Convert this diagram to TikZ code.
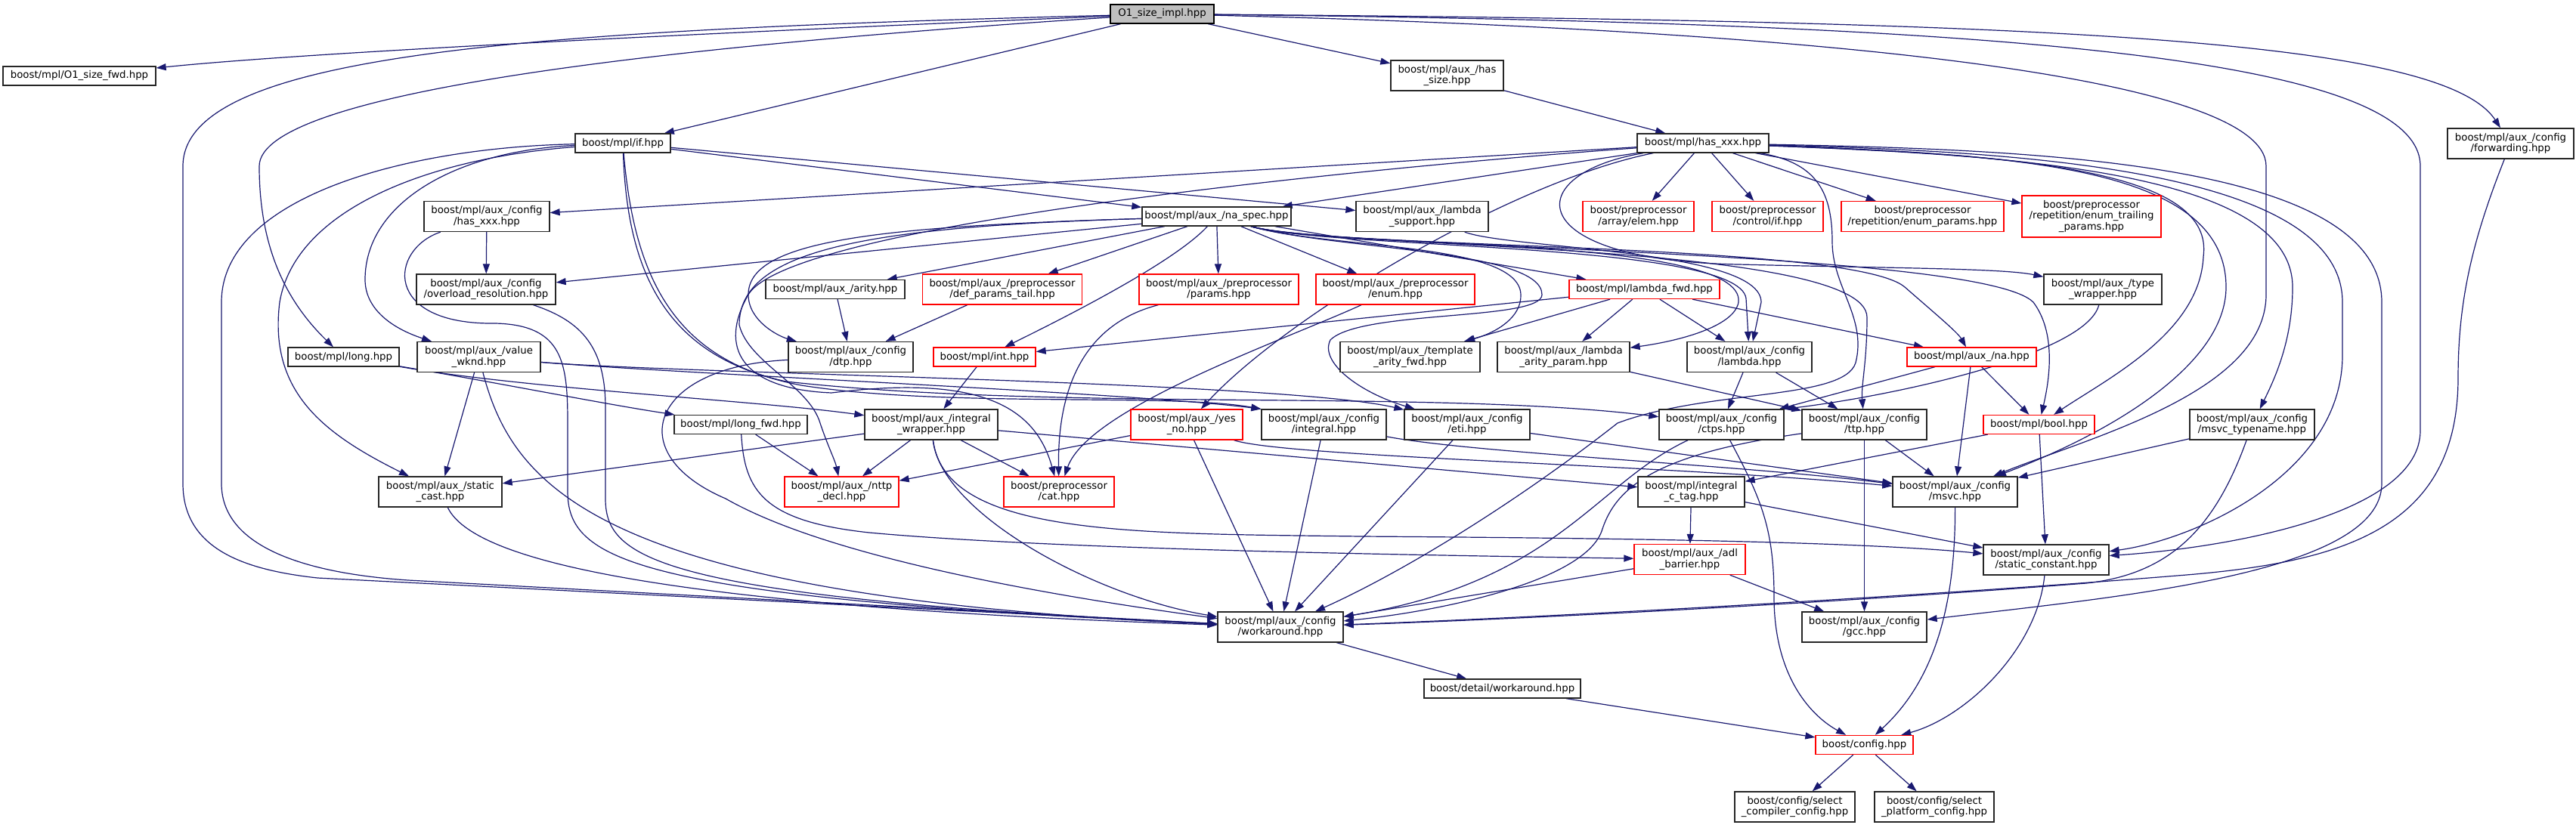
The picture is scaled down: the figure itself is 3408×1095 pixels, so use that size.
\documentclass[tikz,border=0pt]{standalone}
\usepackage{fontspec}
\setmainfont{DejaVu Sans}
\usetikzlibrary{arrows.meta}
\definecolor{edgeblue}{HTML}{191970}
\definecolor{rootgray}{HTML}{BFBFBF}
\definecolor{boxred}{HTML}{FF0000}
\pgfdeclarelayer{bg}
\pgfsetlayers{bg,main}
\begin{document}
\begin{tikzpicture}[x=1pt,y=-1pt,
  nbox/.style={draw=black!85,line width=1.3pt,fill=white,inner sep=0pt,align=center,
     font=\fontsize{13.3}{14.6}\selectfont},
  lone/.style={minimum height=25pt},
  ltwo/.style={minimum height=40pt},
  lthree/.style={minimum height=55pt},
  trunc/.style={draw=boxred},
  incl/.style={draw=edgeblue,line width=1.2pt,-{Triangle[length=13pt,width=9pt]}},
]
\useasboundingbox (0,0) rectangle (3408,1095);

% ---------- nodes ----------
\node[nbox,lone,minimum width=137pt,fill=rootgray,draw=black] (root) at (1537.5,18.5) {O1\_size\_impl.hpp};
\node[nbox,lone,minimum width=202pt] (o1fwd) at (105,100.5) {boost/mpl/O1\_size\_fwd.hpp};
\node[nbox,ltwo,minimum width=149pt] (hassize) at (1914.5,100) {boost/mpl/aux\_/has\\\_size.hpp};
\node[nbox,ltwo,minimum width=167pt] (forwarding) at (3321.5,190) {boost/mpl/aux\_/config\\/forwarding.hpp};
\node[nbox,lone,minimum width=126pt] (ifh) at (824,189.5) {boost/mpl/if.hpp};
\node[nbox,lone,minimum width=174pt] (hasxxx) at (2253,189.5) {boost/mpl/has\_xxx.hpp};
\node[nbox,ltwo,minimum width=166pt] (cfghasxxx) at (644,286.5) {boost/mpl/aux\_/config\\/has\_xxx.hpp};
\node[nbox,lone,minimum width=197pt] (naspec) at (1609.5,286.5) {boost/mpl/aux\_/na\_spec.hpp};
\node[nbox,ltwo,minimum width=175pt] (lambdasupport) at (1881.5,286.5) {boost/mpl/aux\_/lambda\\\_support.hpp};
\node[nbox,ltwo,trunc,minimum width=147pt] (elem) at (2167.5,286.5) {boost/preprocessor\\/array/elem.hpp};
\node[nbox,ltwo,trunc,minimum width=147pt] (ppif) at (2338.5,286.5) {boost/preprocessor\\/control/if.hpp};
\node[nbox,ltwo,trunc,minimum width=215pt] (enumparams) at (2543.5,286.5) {boost/preprocessor\\/repetition/enum\_params.hpp};
\node[nbox,lthree,trunc,minimum width=184pt] (enumtrailing) at (2767,286.5) {boost/preprocessor\\/repetition/enum\_trailing\\\_params.hpp};
\node[nbox,ltwo,minimum width=184pt] (overload) at (643,383) {boost/mpl/aux\_/config\\/overload\_resolution.hpp};
\node[nbox,lone,minimum width=184pt] (arity) at (1105,383) {boost/mpl/aux\_/arity.hpp};
\node[nbox,ltwo,trunc,minimum width=211pt] (defparams) at (1326,383) {boost/mpl/aux\_/preprocessor\\/def\_params\_tail.hpp};
\node[nbox,ltwo,trunc,minimum width=211pt] (params) at (1612.5,383) {boost/mpl/aux\_/preprocessor\\/params.hpp};
\node[nbox,ltwo,trunc,minimum width=210pt] (ppenum) at (1846,383) {boost/mpl/aux\_/preprocessor\\/enum.hpp};
\node[nbox,lone,trunc,minimum width=199pt] (lambdafwd) at (2175.5,383) {boost/mpl/lambda\_fwd.hpp};
\node[nbox,ltwo,minimum width=156pt] (typewrapper) at (2782,383) {boost/mpl/aux\_/type\\\_wrapper.hpp};
\node[nbox,lone,minimum width=147pt] (longh) at (454.5,472.5) {boost/mpl/long.hpp};
\node[nbox,ltwo,minimum width=163pt] (valuewknd) at (633.5,472.5) {boost/mpl/aux\_/value\\\_wknd.hpp};
\node[nbox,ltwo,minimum width=165pt] (dtp) at (1125.5,472.5) {boost/mpl/aux\_/config\\/dtp.hpp};
\node[nbox,lone,trunc,minimum width=135pt] (inth) at (1302.5,472.5) {boost/mpl/int.hpp};
\node[nbox,ltwo,minimum width=185pt] (templatearity) at (1865.5,472.5) {boost/mpl/aux\_/template\\\_arity\_fwd.hpp};
\node[nbox,ltwo,minimum width=175pt] (lambdaarity) at (2068.5,472.5) {boost/mpl/aux\_/lambda\\\_arity\_param.hpp};
\node[nbox,ltwo,minimum width=165pt] (cfglambda) at (2314.5,472.5) {boost/mpl/aux\_/config\\/lambda.hpp};
\node[nbox,lone,trunc,minimum width=171pt] (na) at (2608.5,472.5) {boost/mpl/aux\_/na.hpp};
\node[nbox,lone,minimum width=176pt] (longfwd) at (980,562) {boost/mpl/long\_fwd.hpp};
\node[nbox,ltwo,minimum width=176pt] (intwrapper) at (1232,562) {boost/mpl/aux\_/integral\\\_wrapper.hpp};
\node[nbox,ltwo,trunc,minimum width=148pt] (yesno) at (1570,562) {boost/mpl/aux\_/yes\\\_no.hpp};
\node[nbox,ltwo,minimum width=165pt] (cfgintegral) at (1751.5,562) {boost/mpl/aux\_/config\\/integral.hpp};
\node[nbox,ltwo,minimum width=166pt] (eti) at (1941,562) {boost/mpl/aux\_/config\\/eti.hpp};
\node[nbox,ltwo,minimum width=165pt] (ctps) at (2277.5,562) {boost/mpl/aux\_/config\\/ctps.hpp};
\node[nbox,ltwo,minimum width=165pt] (ttp) at (2466.5,562) {boost/mpl/aux\_/config\\/ttp.hpp};
\node[nbox,lone,trunc,minimum width=147pt] (boolh) at (2697.5,562) {boost/mpl/bool.hpp};
\node[nbox,ltwo,minimum width=165pt] (msvctypename) at (2979.5,562) {boost/mpl/aux\_/config\\/msvc\_typename.hpp};
\node[nbox,ltwo,minimum width=163pt] (statcast) at (582.5,651) {boost/mpl/aux\_/static\\\_cast.hpp};
\node[nbox,ltwo,trunc,minimum width=151pt] (nttp) at (1113.5,651) {boost/mpl/aux\_/nttp\\\_decl.hpp};
\node[nbox,ltwo,trunc,minimum width=146pt] (cat) at (1401,651) {boost/preprocessor\\/cat.hpp};
\node[nbox,ltwo,minimum width=141pt] (intctag) at (2237.5,651) {boost/mpl/integral\\\_c\_tag.hpp};
\node[nbox,ltwo,minimum width=165pt] (msvc) at (2586.5,651) {boost/mpl/aux\_/config\\/msvc.hpp};
\node[nbox,ltwo,trunc,minimum width=147pt] (adl) at (2235.5,740.5) {boost/mpl/aux\_/adl\\\_barrier.hpp};
\node[nbox,ltwo,minimum width=166pt] (statconst) at (2707,741) {boost/mpl/aux\_/config\\/static\_constant.hpp};
\node[nbox,ltwo,minimum width=166pt] (workaround) at (1694,830) {boost/mpl/aux\_/config\\/workaround.hpp};
\node[nbox,ltwo,minimum width=165pt] (gcc) at (2466.5,830) {boost/mpl/aux\_/config\\/gcc.hpp};
\node[nbox,lone,minimum width=207pt] (detailwa) at (1987.5,911.5) {boost/detail/workaround.hpp};
\node[nbox,lone,trunc,minimum width=129pt] (config) at (2466.5,986) {boost/config.hpp};
\node[nbox,ltwo,minimum width=159pt] (selcomp) at (2374.5,1068) {boost/config/select\\\_compiler\_config.hpp};
\node[nbox,ltwo,minimum width=158pt] (selplat) at (2559,1068) {boost/config/select\\\_platform\_config.hpp};

% ---------- edges ----------
\begin{pgfonlayer}{bg}
\fill[white] (0,0) rectangle (3408,1095);
% root
\draw[incl] (root) .. controls (900,45) and (400,70) .. (o1fwd);
\draw[incl] (root) -- (ifh);
\draw[incl] (root) -- (hassize);
\draw[incl] (root) .. controls (900,60) and (343,120) .. (343,220) .. controls (343,330) and (380,400) .. (longh);
\draw[incl] (root) .. controls (700,40) and (242,70) .. (242,220) -- (242,640) .. controls (242,730) and (330,755) .. (420,765) -- (workaround);
\draw[incl] (root) .. controls (2700,28) and (3230,50) .. (forwarding);
\draw[incl] (root) .. controls (2600,30) and (3202,70) .. (3202,220) -- (3202,570) .. controls (3202,680) and (2950,725) .. (statconst);
\draw[incl] (root) .. controls (2400,40) and (2998,100) .. (2998,220) -- (2998,390) .. controls (2998,520) and (2760,580) .. (msvc);
% if
\draw[incl] (ifh) -- (naspec);
\draw[incl] (ifh) -- (lambdasupport);
\draw[incl] (ifh) .. controls (600,200) and (483,270) .. (483,370) .. controls (483,410) and (520,435) .. (valuewknd);
\draw[incl] (ifh) .. controls (560,210) and (390,280) .. (370,400) .. controls (355,520) and (430,575) .. (statcast);
\draw[incl] (ifh) .. controls (540,195) and (293,260) .. (293,400) -- (293,640) .. controls (293,730) and (420,760) .. (540,768) -- (workaround);
\draw[incl] (ifh) .. controls (840,380) and (900,480) .. (1060,510) .. controls (1250,540) and (1550,520) .. (cfgintegral.north west);
\draw[incl] (ifh) .. controls (830,360) and (880,470) .. (1040,505) .. controls (1400,545) and (1900,515) .. (ctps);
% has_size
\draw[incl] (hassize) -- (hasxxx);
% has_xxx
\draw[incl] (hasxxx) -- (cfghasxxx);
\draw[incl] (hasxxx) -- (naspec);
\draw[incl] (hasxxx) -- (elem);
\draw[incl] (hasxxx) -- (ppif);
\draw[incl] (hasxxx) -- (enumparams);
\draw[incl] (hasxxx) -- (enumtrailing);
\draw[incl] (hasxxx) .. controls (2700,205) and (2930,230) .. (2915,340) .. controls (2910,440) and (2790,500) .. (boolh);
\draw[incl] (hasxxx) .. controls (2010,230) and (2010,345) .. (2300,350) .. controls (2500,355) and (2650,355) .. (typewrapper);
\draw[incl] (hasxxx) .. controls (1900,215) and (1050,290) .. (990,390) .. controls (950,460) and (980,515) .. (1100,520) .. controls (1300,495) and (1370,540) .. (cat);
\draw[incl] (hasxxx) .. controls (2000,240) and (1700,420) .. (yesno);
\draw[incl] (hasxxx) .. controls (2650,200) and (3099,220) .. (3099,400) -- (3099,470) .. controls (3099,630) and (2900,715) .. (statconst);
\draw[incl] (hasxxx) .. controls (2700,198) and (3151,215) .. (3151,400) -- (3151,640) .. controls (3151,760) and (2800,790) .. (gcc);
\draw[incl] (hasxxx) .. controls (2650,205) and (3033,225) .. (3033,380) .. controls (3033,450) and (3010,500) .. (msvctypename);
\draw[incl] (hasxxx) .. controls (2650,205) and (2945,215) .. (2945,380) .. controls (2945,480) and (2800,570) .. (msvc);
\draw[incl] (hasxxx) .. controls (2400,215) and (2424,250) .. (2424,320) .. controls (2424,380) and (2470,420) .. (2455,480) .. controls (2440,530) and (2260,515) .. (2140,560) .. controls (2000,670) and (1850,760) .. (workaround);
% na_spec
\draw[incl] (naspec) -- (lambdafwd);
\draw[incl] (naspec) .. controls (1560,340) and (1450,400) .. (inth);
\draw[incl] (naspec) .. controls (1760,330) and (2620,330) .. (2690,400) .. controls (2720,440) and (2712,500) .. (boolh);
\draw[incl] (naspec) .. controls (1760,330) and (2450,320) .. (2520,380) .. controls (2560,415) and (2590,440) .. (na);
\draw[incl] (naspec) -- (arity);
\draw[incl] (naspec) .. controls (1760,330) and (2010,320) .. (2012,390) .. controls (2013,420) and (1980,440) .. (templatearity);
\draw[incl] (naspec) -- (params);
\draw[incl] (naspec) -- (ppenum);
\draw[incl] (naspec) -- (defparams);
\draw[incl] (naspec) .. controls (1760,330) and (2310,310) .. (2300,400) .. controls (2295,430) and (2230,450) .. (lambdaarity);
\draw[incl] (naspec) .. controls (1150,300) and (990,320) .. (990,390) .. controls (990,425) and (1030,445) .. (dtp);
\draw[incl] (naspec) .. controls (1760,330) and (2040,330) .. (2040,390) .. controls (2040,425) and (1800,410) .. (1760,450) .. controls (1745,480) and (1800,520) .. (eti);
\draw[incl] (naspec) .. controls (1150,300) and (978,330) .. (978,430) .. controls (990,480) and (1070,510) .. (1085,560) .. controls (1095,590) and (1105,610) .. (nttp);
\draw[incl] (naspec) .. controls (1760,330) and (2470,320) .. (2470,420) .. controls (2470,480) and (2462,510) .. (ttp);
\draw[incl] (naspec) .. controls (1760,330) and (2300,320) .. (2310,395) -- (cfglambda);
\draw[incl] (naspec) -- (overload);
% lambda_support
\draw[incl] (lambdasupport) .. controls (2000,330) and (2330,330) .. (2330,400) -- (cfglambda);
% lambda_fwd
\draw[incl] (lambdafwd) -- (inth);
\draw[incl] (lambdafwd) -- (templatearity);
\draw[incl] (lambdafwd) -- (lambdaarity);
\draw[incl] (lambdafwd) -- (cfglambda);
\draw[incl] (lambdafwd) -- (na);
% int
\draw[incl] (inth) -- (intwrapper);
% integral_wrapper
\draw[incl] (intwrapper) -- (nttp);
\draw[incl] (intwrapper) -- (cat);
\draw[incl] (intwrapper) -- (statcast);
\draw[incl] (intwrapper) .. controls (1245,680) and (1450,790) .. (workaround);
\draw[incl] (intwrapper) -- (intctag);
\draw[incl] (intwrapper) .. controls (1250,710) and (1500,706) .. (1800,710) .. controls (2100,712) and (2450,716) .. (statconst);
% long
\draw[incl] (longh) .. controls (650,505) and (800,535) .. (longfwd);
\draw[incl] (longh) .. controls (700,515) and (1000,530) .. (intwrapper);
% value_wknd
\draw[incl] (valuewknd) -- (statcast);
\draw[incl] (valuewknd) .. controls (900,495) and (1500,520) .. (cfgintegral.north west);
\draw[incl] (valuewknd) .. controls (900,495) and (1700,505) .. (eti);
\draw[incl] (valuewknd) .. controls (680,650) and (800,790) .. (workaround);
% static_cast
\draw[incl] (statcast) .. controls (620,730) and (800,800) .. (workaround);
% config/has_xxx, overload
\draw[incl] (cfghasxxx) -- (overload);
\draw[incl] (cfghasxxx) .. controls (515,330) and (505,430) .. (655,428) .. controls (745,430) and (751,480) .. (751,560) -- (751,650) .. controls (751,740) and (830,790) .. (workaround);
\draw[incl] (overload) .. controls (770,425) and (801,460) .. (801,540) -- (801,660) .. controls (801,740) and (870,790) .. (workaround);
% arity, preprocessor
\draw[incl] (arity) -- (dtp);
\draw[incl] (defparams) -- (dtp);
\draw[incl] (params) .. controls (1430,430) and (1399,520) .. (cat);
\draw[incl] (ppenum) .. controls (1700,450) and (1440,540) .. (cat);
\draw[incl] (dtp) .. controls (860,485) and (820,600) .. (960,660) .. controls (1100,740) and (1400,790) .. (workaround);
% long_fwd
\draw[incl] (longfwd) -- (nttp);
\draw[incl] (longfwd) .. controls (985,650) and (1010,690) .. (1150,705) .. controls (1400,728) and (1900,735) .. (adl);
% yes_no
\draw[incl] (yesno) -- (nttp);
\draw[incl] (yesno) -- (workaround);
\draw[incl] (yesno) .. controls (1700,605) and (2200,615) .. (msvc);
% config/integral, eti
\draw[incl] (cfgintegral) .. controls (1950,600) and (2300,615) .. (msvc);
\draw[incl] (cfgintegral) -- (workaround);
\draw[incl] (eti) -- (msvc);
\draw[incl] (eti) -- (workaround);
% ctps, ttp
\draw[incl] (ctps) .. controls (2110,640) and (2060,770) .. (workaround);
\draw[incl] (ctps) .. controls (2330,660) and (2347,700) .. (2347,790) .. controls (2347,900) and (2400,950) .. (config);
\draw[incl] (ttp) -- (msvc);
\draw[incl] (ttp) -- (gcc);
\draw[incl] (ttp) .. controls (2200,600) and (2140,640) .. (2120,700) .. controls (2100,770) and (1900,810) .. (workaround);
% config/lambda, lambda_arity_param
\draw[incl] (cfglambda) -- (ctps);
\draw[incl] (cfglambda) -- (ttp);
\draw[incl] (lambdaarity) -- (ttp);
% na
\draw[incl] (na) -- (boolh);
\draw[incl] (na) -- (msvc);
\draw[incl] (na) -- (ctps);
% type_wrapper
\draw[incl] (typewrapper) .. controls (2760,470) and (2500,525) .. (ctps.north east);
% bool
\draw[incl] (boolh) -- (statconst);
\draw[incl] (boolh) -- (intctag);
% msvc_typename
\draw[incl] (msvctypename) -- (msvc);
\draw[incl] (msvctypename) .. controls (2930,700) and (2870,760) .. (2760,772) .. controls (2400,800) and (2000,820) .. (workaround);
% forwarding
\draw[incl] (forwarding) .. controls (3270,320) and (3252,400) .. (3252,500) .. controls (3252,700) and (3100,745) .. (2880,762) .. controls (2600,785) and (2100,815) .. (workaround);
% integral_c_tag, msvc, static_constant, adl
\draw[incl] (intctag) -- (adl);
\draw[incl] (intctag) -- (statconst);
\draw[incl] (msvc) .. controls (2587,800) and (2560,900) .. (config);
\draw[incl] (statconst) .. controls (2695,860) and (2600,950) .. (config);
\draw[incl] (adl) -- (workaround);
\draw[incl] (adl) -- (gcc);
% bottom
\draw[incl] (workaround) -- (detailwa);
\draw[incl] (detailwa) -- (config);
\draw[incl] (config) -- (selcomp);
\draw[incl] (config) -- (selplat);
\end{pgfonlayer}
\end{tikzpicture}
\end{document}
